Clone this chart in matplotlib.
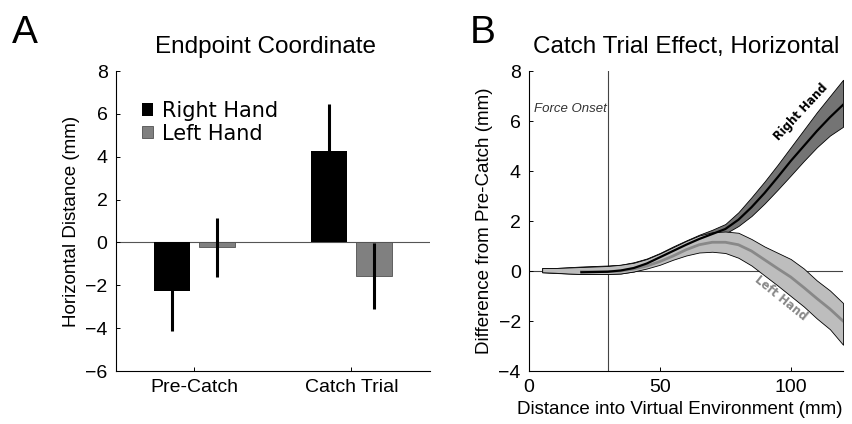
import numpy as np
import matplotlib.pyplot as plt

plt.rcParams['font.family'] = ['Liberation Sans', 'DejaVu Sans']

# panel A: endpoint coordinate (mean, error)
conditions = ['Pre-Catch', 'Catch Trial']
right_end = [-2.25, 4.27]
right_err = [1.9, 2.18]
left_end = [-0.22, -1.56]
left_err = [1.38, 1.53]

# panel B: catch trial effect along the reach
dist = [5, 10, 15, 20, 25, 30, 35, 40, 45, 50, 55, 60,
        65, 70, 75, 80, 85, 90, 95, 100, 105, 110, 115, 120]
right_mean = [0.02, 0.0, -0.03, -0.05, -0.04, -0.03, 0.02, 0.12, 0.3, 0.55, 0.8, 1.05,
              1.28, 1.48, 1.68, 2.05, 2.55, 3.12, 3.75, 4.4, 5.0, 5.6, 6.15, 6.65]
right_hi = [0.12, 0.12, 0.15, 0.18, 0.2, 0.22, 0.25, 0.35, 0.5, 0.72, 0.98, 1.22,
            1.45, 1.65, 1.88, 2.35, 2.95, 3.58, 4.25, 4.95, 5.65, 6.35, 7.0, 7.65]
right_lo = [-0.05, -0.08, -0.1, -0.12, -0.12, -0.12, -0.1, -0.02, 0.15, 0.4, 0.65, 0.9,
            1.12, 1.32, 1.5, 1.8, 2.2, 2.7, 3.25, 3.82, 4.4, 4.95, 5.42, 5.77]
left_mean = [0.0, 0.0, -0.02, -0.03, -0.03, -0.02, 0.0, 0.08, 0.2, 0.38, 0.6, 0.85,
             1.05, 1.15, 1.15, 1.05, 0.8, 0.45, 0.1, -0.24, -0.66, -1.1, -1.52, -2.0]
left_hi = [0.12, 0.12, 0.14, 0.16, 0.18, 0.2, 0.25, 0.33, 0.48, 0.7, 0.95, 1.2,
           1.42, 1.55, 1.58, 1.53, 1.28, 0.98, 0.73, 0.48, 0.1, -0.38, -0.78, -1.28]
left_lo = [-0.05, -0.07, -0.1, -0.12, -0.12, -0.12, -0.1, -0.02, 0.1, 0.25, 0.45, 0.62,
           0.74, 0.77, 0.72, 0.53, 0.22, -0.18, -0.58, -1.0, -1.42, -1.9, -2.33, -2.95]
force_onset = 30

fig = plt.figure(figsize=(8.52, 4.24), dpi=100)
axA = fig.add_axes([0.136, 0.125, 0.3685, 0.7075])
axB = fig.add_axes([0.621, 0.125, 0.3685, 0.7075])

fs = 14
lfs = 13.5
for ax in (axA, axB):
    ax.spines['top'].set_visible(False)
    ax.spines['right'].set_visible(False)
    ax.spines['left'].set_linewidth(0.8)
    ax.spines['bottom'].set_linewidth(0.8)
    ax.tick_params(direction='in', length=3, width=0.7, labelsize=fs, pad=6)

# --- A ---
pos = np.arange(1, len(conditions) + 1)
w = 0.23
off = 0.145
axA.axhline(0, color='#555555', lw=0.8, zorder=1)
axA.bar(pos - off, right_end, w, color='black', label='Right Hand', zorder=2)
axA.bar(pos + off, left_end, w, color='#808080', edgecolor='#505050', lw=0.6,
        label='Left Hand', zorder=2)
axA.errorbar(pos - off, right_end, yerr=right_err, fmt='none', ecolor='black',
             elinewidth=2.2, capsize=0, zorder=3)
axA.errorbar(pos + off, left_end, yerr=left_err, fmt='none', ecolor='black',
             elinewidth=2.2, capsize=0, zorder=3)
axA.set_xlim(0.5, 2.5)
axA.set_ylim(-6, 8)
axA.set_xticks(pos)
axA.set_xticklabels(conditions)
axA.set_yticks(np.arange(-6, 9, 2))
axA.set_ylabel('Horizontal Distance (mm)', fontsize=lfs)
axA.set_title('Endpoint Coordinate', fontsize=17.5, pad=13, x=0.475)
axA.legend(loc='upper left', bbox_to_anchor=(0.083, 0.9), frameon=False,
           prop={'family': 'DejaVu Sans', 'size': 15}, handlelength=0.55,
           handleheight=0.55, handletextpad=0.4, labelspacing=0.12,
           borderpad=0, borderaxespad=0)

# --- B ---
x = np.array(dist)
axB.axhline(0, color='#444444', lw=0.8, zorder=1)
axB.axvline(force_onset, color='#444444', lw=0.8, zorder=1)
axB.fill_between(x, right_lo, right_hi, facecolor='#747474', edgecolor='black',
                 lw=0.6, zorder=2)
axB.fill_between(x, left_lo, left_hi, facecolor='#bdbdbd', edgecolor='black',
                 lw=0.6, zorder=3)
axB.plot(x[3:], left_mean[3:], color='#888888', lw=2, zorder=4)
axB.plot(x[3:], right_mean[3:], color='black', lw=1.6, zorder=5)
axB.text(force_onset - 0.5, 6.5, 'Force Onset', style='italic', fontsize=9.5,
         color='#333333', ha='right', va='center')
axB.text(104, 6.35, 'Right Hand', family='DejaVu Sans', fontweight='bold',
         fontsize=8.3, rotation=47, ha='center', va='center', color='black')
axB.text(96.3, -1.1, 'Left Hand', family='DejaVu Sans', fontweight='bold',
         fontsize=8.3, rotation=-39, ha='center', va='center', color='#888888')
axB.set_xlim(0, 120)
axB.set_ylim(-4, 8)
axB.set_xticks([0, 50, 100])
axB.set_yticks(np.arange(-4, 9, 2))
axB.set_xlabel('Distance into Virtual Environment (mm)', fontsize=lfs, labelpad=2)
axB.xaxis.set_label_coords(0.48, -0.1)
axB.set_ylabel('Difference from Pre-Catch (mm)', fontsize=lfs)
axB.set_title('Catch Trial Effect, Horizontal', fontsize=17.5, pad=13)

fig.text(0.014, 0.899, 'A', fontsize=28, va='baseline')
fig.text(0.551, 0.899, 'B', fontsize=28, va='baseline')

fig.savefig('out.png', dpi=100)
